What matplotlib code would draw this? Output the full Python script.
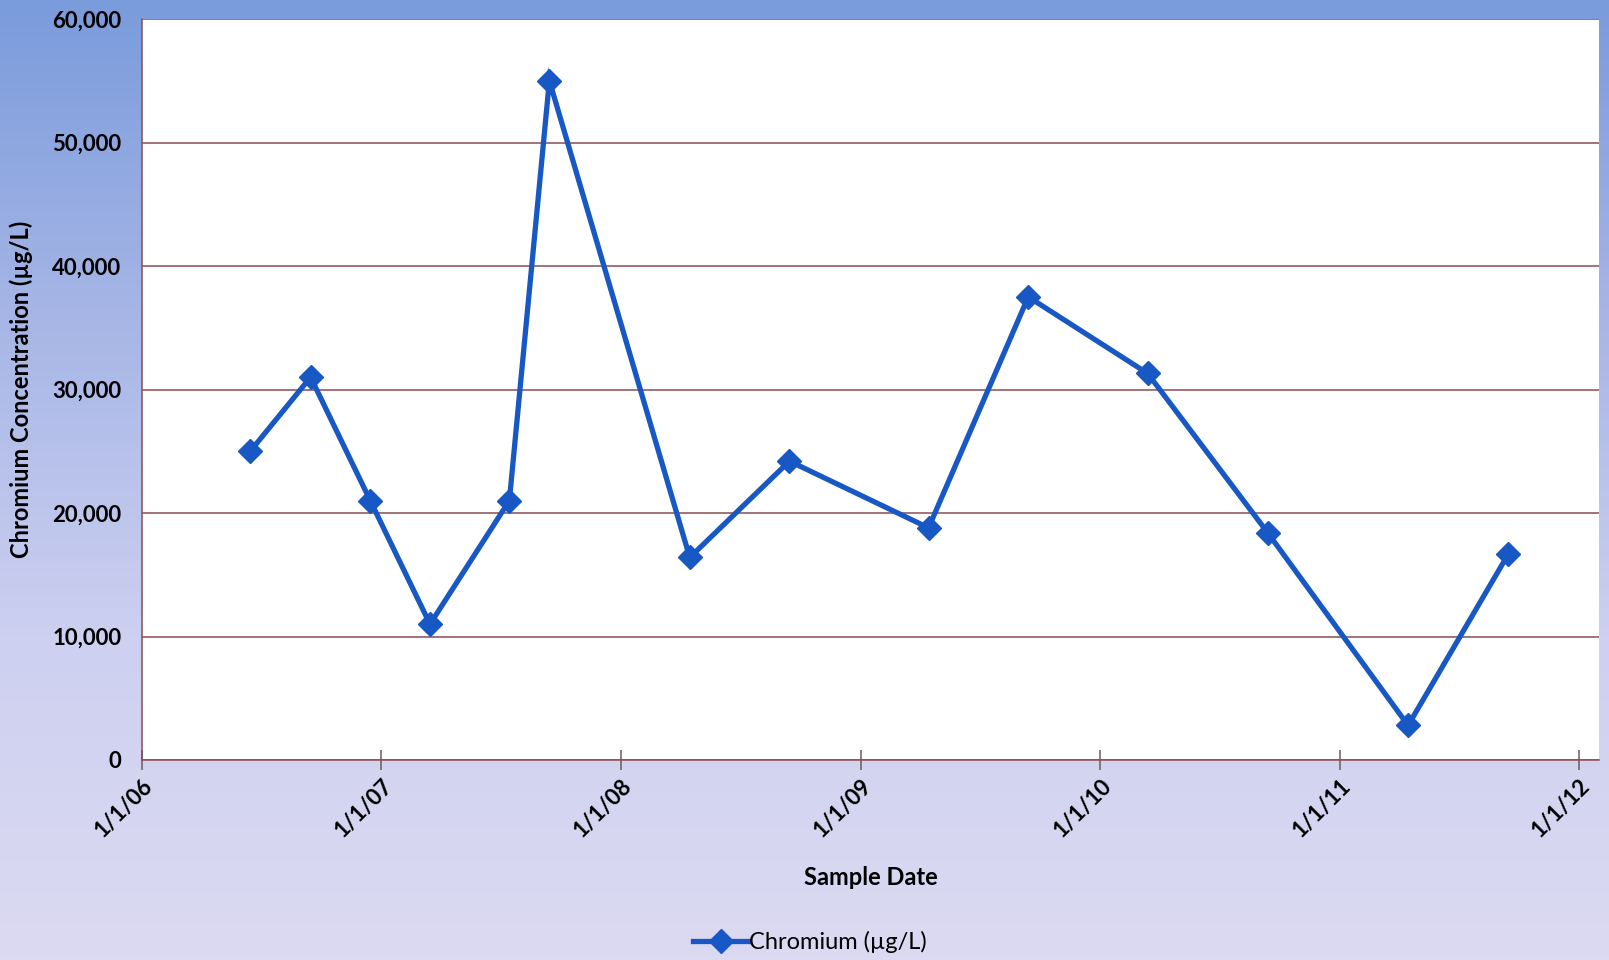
import matplotlib.pyplot as plt
import numpy as np
from datetime import date
from matplotlib.colors import LinearSegmentedColormap

plt.rcParams['font.family'] = ['Lato', 'DejaVu Sans']

# sampling events
sample_dates = [date(2006, 6, 15), date(2006, 9, 15), date(2006, 12, 15),
                date(2007, 3, 16), date(2007, 7, 15), date(2007, 9, 14),
                date(2008, 4, 15), date(2008, 9, 14), date(2009, 4, 14),
                date(2009, 9, 13), date(2010, 3, 14), date(2010, 9, 13),
                date(2011, 4, 15), date(2011, 9, 15)]
chromium = [25000, 31000, 21000, 11000, 21000, 55000, 16400, 24200,
            18800, 37500, 31300, 18400, 2800, 16700]

tick_dates = [date(y, 1, 1) for y in range(2006, 2013)]
tick_labels = ['1/1/06', '1/1/07', '1/1/08', '1/1/09', '1/1/10', '1/1/11', '1/1/12']
y_ticks = [0, 10000, 20000, 30000, 40000, 50000, 60000]

fig = plt.figure(figsize=(16.09, 9.60), dpi=100)

# blue-to-lavender backdrop
bg = fig.add_axes([0, 0, 1, 1], zorder=-10)
cmap = LinearSegmentedColormap.from_list('bg', ['#7a9bdb', '#a7b6e6', '#cdd0f0', '#dcdaf2'])
grad = np.linspace(0, 1, 256).reshape(-1, 1)
bg.imshow(grad, aspect='auto', cmap=cmap, extent=[0, 1, 0, 1], origin='upper')
bg.axis('off')

ax = fig.add_axes([142/1609, 1-760/960, (1599-142)/1609, (760-19)/960])
ax.set_facecolor('white')
line_col = '#1858c4'
ax.plot(sample_dates, chromium, color=line_col, lw=3.8, marker='D', ms=12.5,
        label='Chromium (µg/L)', zorder=3, solid_joinstyle='miter')

grid_col = '#8a4c55'
ax.set_ylim(0, 60000)
ax.set_yticks(y_ticks)
ax.set_yticklabels([f'{v:,}' for v in y_ticks])
ax.yaxis.grid(True, color=grid_col, lw=1.1)
ax.set_axisbelow(True)
ax.set_xlim(date(2006, 1, 1), date(2012, 1, 31))
ax.set_xticks(tick_dates)
ax.set_xticklabels(tick_labels, rotation=45, ha='right', rotation_mode='anchor')

for s in ['top', 'right']:
    ax.spines[s].set_visible(False)
for s in ['left', 'bottom']:
    ax.spines[s].set_color(grid_col)
    ax.spines[s].set_linewidth(1.1)

ax.tick_params(axis='x', direction='inout', length=14, width=1.1, color='#6b5a60',
               labelsize=16, pad=4)
ax.tick_params(axis='y', length=0, labelsize=16, pad=15)
for lab in ax.get_xticklabels() + ax.get_yticklabels():
    lab.set_fontweight('bold')

ax.set_ylabel('Chromium Concentration (µg/L)', fontsize=17, fontweight='bold')
ax.yaxis.set_label_coords(-0.075, 0.5)
ax.set_xlabel('Sample Date', fontsize=17, fontweight='bold')
ax.xaxis.set_label_coords(0.5, -0.143)

fig.legend(loc='center', bbox_to_anchor=(810/1609, 1-942/960), frameon=False,
           fontsize=17, handlelength=2.4, handletextpad=0.0)

fig.savefig('out.png', dpi=100)
